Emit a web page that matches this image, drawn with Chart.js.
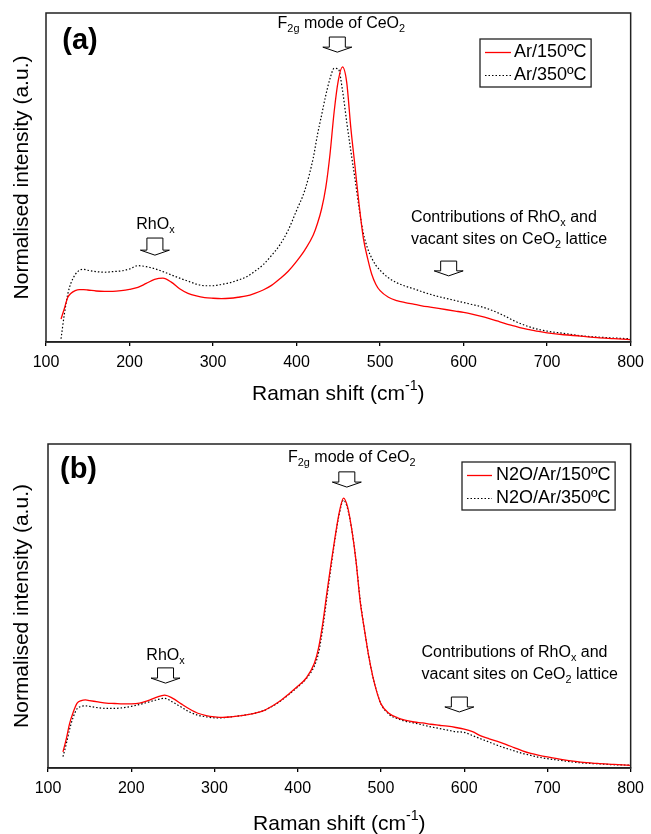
<!DOCTYPE html>
<html>
<head>
<meta charset="utf-8">
<script src="https://cdn.jsdelivr.net/npm/chart.js@4.4.1/dist/chart.umd.min.js"></script>
<style>
  html, body { margin: 0; padding: 0; background: #fff; }
  body { width: 651px; height: 834px; position: relative; overflow: hidden; }
  canvas { position: absolute; left: 0; }
  #ca { top: 0; }
  #cb { top: 417px; }
</style>
</head>
<body>
<canvas id="ca" width="651" height="417"></canvas>
<canvas id="cb" width="651" height="417"></canvas>
<script>
// ---- data (Raman shift in cm-1, normalised intensity in % of plot height) ----
const ramanShift = [118,122,126,130,135,140,145,150,160,170,180,190,200,210,220,230,240,250,260,270,280,290,300,310,320,330,340,350,360,370,380,390,400,410,420,425,430,435,440,445,450,455,460,465,470,475,480,485,490,495,500,510,520,530,540,550,560,570,580,590,600,610,620,630,640,650,660,670,680,690,700,720,740,760,780,800];

const ar150 = [7.0,10.2,13.5,14.8,15.6,15.9,15.9,15.8,15.5,15.4,15.4,15.6,16.0,16.6,17.8,19.0,19.4,18.2,16.2,14.8,14.0,13.5,13.3,13.2,13.3,13.6,14.0,14.8,15.8,17.2,19.2,21.5,24.5,28.0,32.5,36.0,40.5,47.0,57.0,70.0,79.5,83.6,79.0,65.0,53.3,41.5,31.5,25.5,20.6,17.5,15.6,13.6,12.6,12.0,11.5,11.0,10.6,10.2,9.8,9.4,9.0,8.5,7.9,7.2,6.4,5.6,4.9,4.2,3.7,3.2,2.8,2.2,1.8,1.3,1.0,0.7];

const ar350 = [1.0,8.5,14.5,18.0,20.5,21.8,22.1,21.8,21.4,21.2,21.4,21.6,22.2,23.2,22.9,22.3,21.4,20.4,19.4,18.5,17.6,17.1,17.1,17.5,18.0,18.8,19.8,21.5,23.5,26.3,29.5,34.0,40.0,46.2,56.0,63.0,69.0,75.0,80.0,83.2,83.0,76.5,67.0,58.0,49.5,40.5,33.0,28.5,25.5,23.3,21.8,19.5,18.0,17.0,16.2,15.3,14.5,13.8,13.2,12.6,12.0,11.4,10.8,10.0,9.0,7.8,6.5,5.4,4.5,3.8,3.3,2.6,1.9,1.5,1.2,1.0];

const n2o150 = [5.0,9.0,13.8,17.0,20.0,20.8,21.0,20.8,20.4,20.0,19.9,19.8,19.8,20.0,20.8,21.8,22.5,21.5,19.8,18.2,16.9,16.2,15.8,15.6,15.8,16.1,16.5,17.0,17.8,19.2,20.9,23.0,25.2,27.7,32.3,37.0,44.5,54.0,63.0,71.5,79.0,83.3,80.5,73.5,64.0,51.5,43.0,35.0,28.5,23.5,19.8,16.8,15.5,14.7,14.2,13.9,13.5,13.2,12.9,12.5,12.0,11.2,9.9,9.0,8.2,7.3,6.3,5.3,4.5,3.9,3.4,2.5,1.8,1.4,1.1,0.8];

const n2o350 = [3.5,7.5,12.0,15.5,18.3,19.0,19.2,19.0,18.6,18.4,18.4,18.6,19.0,19.6,20.3,21.0,21.5,20.3,18.8,17.3,16.3,15.8,15.5,15.5,15.8,16.1,16.5,17.0,17.8,19.1,20.8,22.8,25.0,27.5,31.5,35.5,43.0,52.5,62.0,71.0,78.5,82.7,80.0,73.5,64.0,52.0,43.0,35.0,28.5,23.5,19.8,16.5,15.2,14.4,13.9,13.3,12.7,12.2,11.7,11.2,11.0,10.0,9.0,8.0,7.0,6.1,5.3,4.5,3.9,3.3,2.9,2.2,1.6,1.3,1.0,0.9];

const xTicks = [100,200,300,400,500,600,700,800];
const legendA = ['Ar/150ºC', 'Ar/350ºC'];
const legendB = ['N2O/Ar/150ºC', 'N2O/Ar/350ºC'];

// ---- drawing helpers ----
const FAM = '"Liberation Sans", Arial, Helvetica, sans-serif';

function richWidth(ctx, parts, size) {
  let w = 0;
  for (const [t, m] of parts) {
    ctx.font = (m === 'n' ? size : size * 0.68) + 'px ' + FAM;
    w += ctx.measureText(t).width;
  }
  return w;
}
function richText(ctx, parts, x, y, size, align) {
  const w = richWidth(ctx, parts, size);
  let cx = align === 'center' ? x - w / 2 : (align === 'right' ? x - w : x);
  ctx.textAlign = 'left';
  ctx.textBaseline = 'middle';
  for (const [t, m] of parts) {
    const s = m === 'n' ? size : size * 0.68;
    ctx.font = s + 'px ' + FAM;
    const dy = m === 'sub' ? size * 0.3 : (m === 'sup' ? -size * 0.38 : 0);
    ctx.fillText(t, cx, y + dy);
    cx += ctx.measureText(t).width;
  }
}
function hollowArrow(ctx, cx, top, tip) {
  const sw = 8, hw = 14.5, hh = 5;
  ctx.beginPath();
  ctx.moveTo(cx - sw, top);
  ctx.lineTo(cx + sw, top);
  ctx.lineTo(cx + sw, tip - hh);
  ctx.lineTo(cx + hw, tip - hh);
  ctx.lineTo(cx, tip);
  ctx.lineTo(cx - hw, tip - hh);
  ctx.lineTo(cx - sw, tip - hh);
  ctx.closePath();
  ctx.fillStyle = '#fff';
  ctx.fill();
  ctx.strokeStyle = '#000';
  ctx.lineWidth = 1;
  ctx.stroke();
}

const deco = {
  id: 'deco',
  afterDraw(chart, args, o) {
    const { ctx, chartArea: a, scales: { x, y } } = chart;
    ctx.save();
    // frame
    ctx.strokeStyle = '#222';
    ctx.lineWidth = 1.5;
    ctx.strokeRect(a.left, a.top, a.right - a.left, a.bottom - a.top);
    ctx.fillStyle = '#000';
    // panel label
    ctx.font = 'bold 29px ' + FAM;
    ctx.textAlign = 'center';
    ctx.textBaseline = 'middle';
    ctx.fillText(o.label, a.left + o.labelDx, a.top + o.labelDy);
    // annotations
    for (const n of o.notes) {
      ctx.fillStyle = '#000';
      n.lines.forEach((parts, i) => {
        richText(ctx, parts, x.getPixelForValue(n.x), y.getPixelForValue(n.y[i]), 16, n.align);
      });
      hollowArrow(ctx, x.getPixelForValue(n.ax), y.getPixelForValue(n.atop), y.getPixelForValue(n.atip));
    }
    // legend box
    const L = a.left + o.legDx, T = a.top + o.legDy;
    ctx.font = '18px ' + FAM;
    const tw = Math.max(...o.legend.map(t => ctx.measureText(t).width));
    const W = o.legText + tw + 4.5, H = 48;
    ctx.fillStyle = '#fff';
    ctx.fillRect(L, T, W, H);
    ctx.strokeStyle = '#222';
    ctx.lineWidth = 1.3;
    ctx.strokeRect(L, T, W, H);
    const rows = [T + 13.5, T + 36.5];
    chart.data.datasets.forEach((ds, i) => {
      ctx.beginPath();
      ctx.strokeStyle = ds.borderColor;
      ctx.lineWidth = ds.borderWidth;
      ctx.setLineDash(ds.borderDash || []);
      ctx.moveTo(L + 5, rows[i]);
      ctx.lineTo(L + o.legLine, rows[i]);
      ctx.stroke();
      ctx.setLineDash([]);
      ctx.fillStyle = '#000';
      ctx.font = '18px ' + FAM;
      ctx.textAlign = 'left';
      ctx.textBaseline = 'middle';
      ctx.fillText(o.legend[i], L + o.legText, rows[i]);
    });
    // axis titles
    ctx.fillStyle = '#000';
    richText(ctx, [['Raman shift (cm', 'n'], ['-1', 'sup'], [')', 'n']], (a.left + a.right) / 2, a.bottom + o.xTitleDy, 21, 'center');
    ctx.save();
    ctx.translate(22, (a.top + a.bottom) / 2);
    ctx.rotate(-Math.PI / 2);
    richText(ctx, [['Normalised intensity (a.u.)', 'n']], 0, 0, 21, 'center');
    ctx.restore();
    ctx.restore();
  }
};

function makeChart(id, s1, s2, names, pad, axisH, deco_opts) {
  return new Chart(document.getElementById(id), {
    type: 'line',
    data: {
      datasets: [
        { label: names[0], data: ramanShift.map((v, i) => ({ x: v, y: s1[i] })),
          borderColor: '#ff0000', borderWidth: 1.3, pointRadius: 0, cubicInterpolationMode: 'monotone', fill: false },
        { label: names[1], data: ramanShift.map((v, i) => ({ x: v, y: s2[i] })),
          borderColor: '#000000', borderWidth: 1.2, borderDash: [1.5, 2], pointRadius: 0, cubicInterpolationMode: 'monotone', fill: false }
      ]
    },
    options: {
      responsive: false,
      animation: false,
      events: [],
      layout: { padding: pad },
      plugins: { legend: { display: false }, tooltip: { enabled: false }, deco: deco_opts },
      scales: {
        x: {
          type: 'linear', min: 100, max: 800,
          afterBuildTicks: s => { s.ticks = xTicks.map(v => ({ value: v })); },
          ticks: { color: '#000', font: { family: FAM, size: 16 }, padding: 7, maxRotation: 0 },
          grid: { drawOnChartArea: false, drawTicks: true, tickLength: 4, color: '#000', lineWidth: 1.3 },
          border: { display: true, color: '#222', width: 1.5 },
          afterFit: s => { s.height = axisH; }
        },
        y: { display: false, min: 0, max: 100 }
      }
    },
    plugins: [deco]
  });
}

const F2G = [['F', 'n'], ['2g', 'sub'], [' mode of CeO', 'n'], ['2', 'sub']];
const RHOX = [['RhO', 'n'], ['x', 'sub']];
const CONTRIB1 = [['Contributions of RhO', 'n'], ['x', 'sub'], [' and', 'n']];
const CONTRIB2 = [['vacant sites on CeO', 'n'], ['2', 'sub'], [' lattice', 'n']];

makeChart('ca', ar150, ar350, legendA, { left: 46, right: 17, top: 13, bottom: 0 }, 75, {
  label: '(a)', labelDx: 34, labelDy: 28,
  legend: legendA, legDx: 434, legDy: 26, legLine: 31, legText: 34,
  xTitleDy: 52,
  notes: [
    { lines: [F2G], x: 453.6, y: [96.7], align: 'center', ax: 448.8, atop: 92.7, atip: 88.1 },
    { lines: [RHOX], x: 231, y: [35.6], align: 'center', ax: 230.4, atop: 31.6, atip: 26.4 },
    { lines: [CONTRIB1, CONTRIB2], x: 536.9, y: [37.7, 31.0], align: 'left', ax: 582.1, atop: 24.6, atip: 20.1 }
  ]
});

makeChart('cb', n2o150, n2o350, legendB, { left: 48, right: 18, top: 27, bottom: 0 }, 66, {
  label: '(b)', labelDx: 30.5, labelDy: 26,
  legend: legendB, legDx: 414, legDy: 18, legLine: 30, legText: 34,
  xTitleDy: 56,
  notes: [
    { lines: [F2G], x: 465, y: [95.7], align: 'center', ax: 459, atop: 91.4, atip: 86.7 },
    { lines: [RHOX], x: 241.2, y: [34.6], align: 'center', ax: 241.2, atop: 30.9, atip: 26.2 },
    { lines: [CONTRIB1, CONTRIB2], x: 548.7, y: [35.5, 28.7], align: 'left', ax: 594.2, atop: 21.9, atip: 17.3 }
  ]
});
</script>
</body>
</html>
